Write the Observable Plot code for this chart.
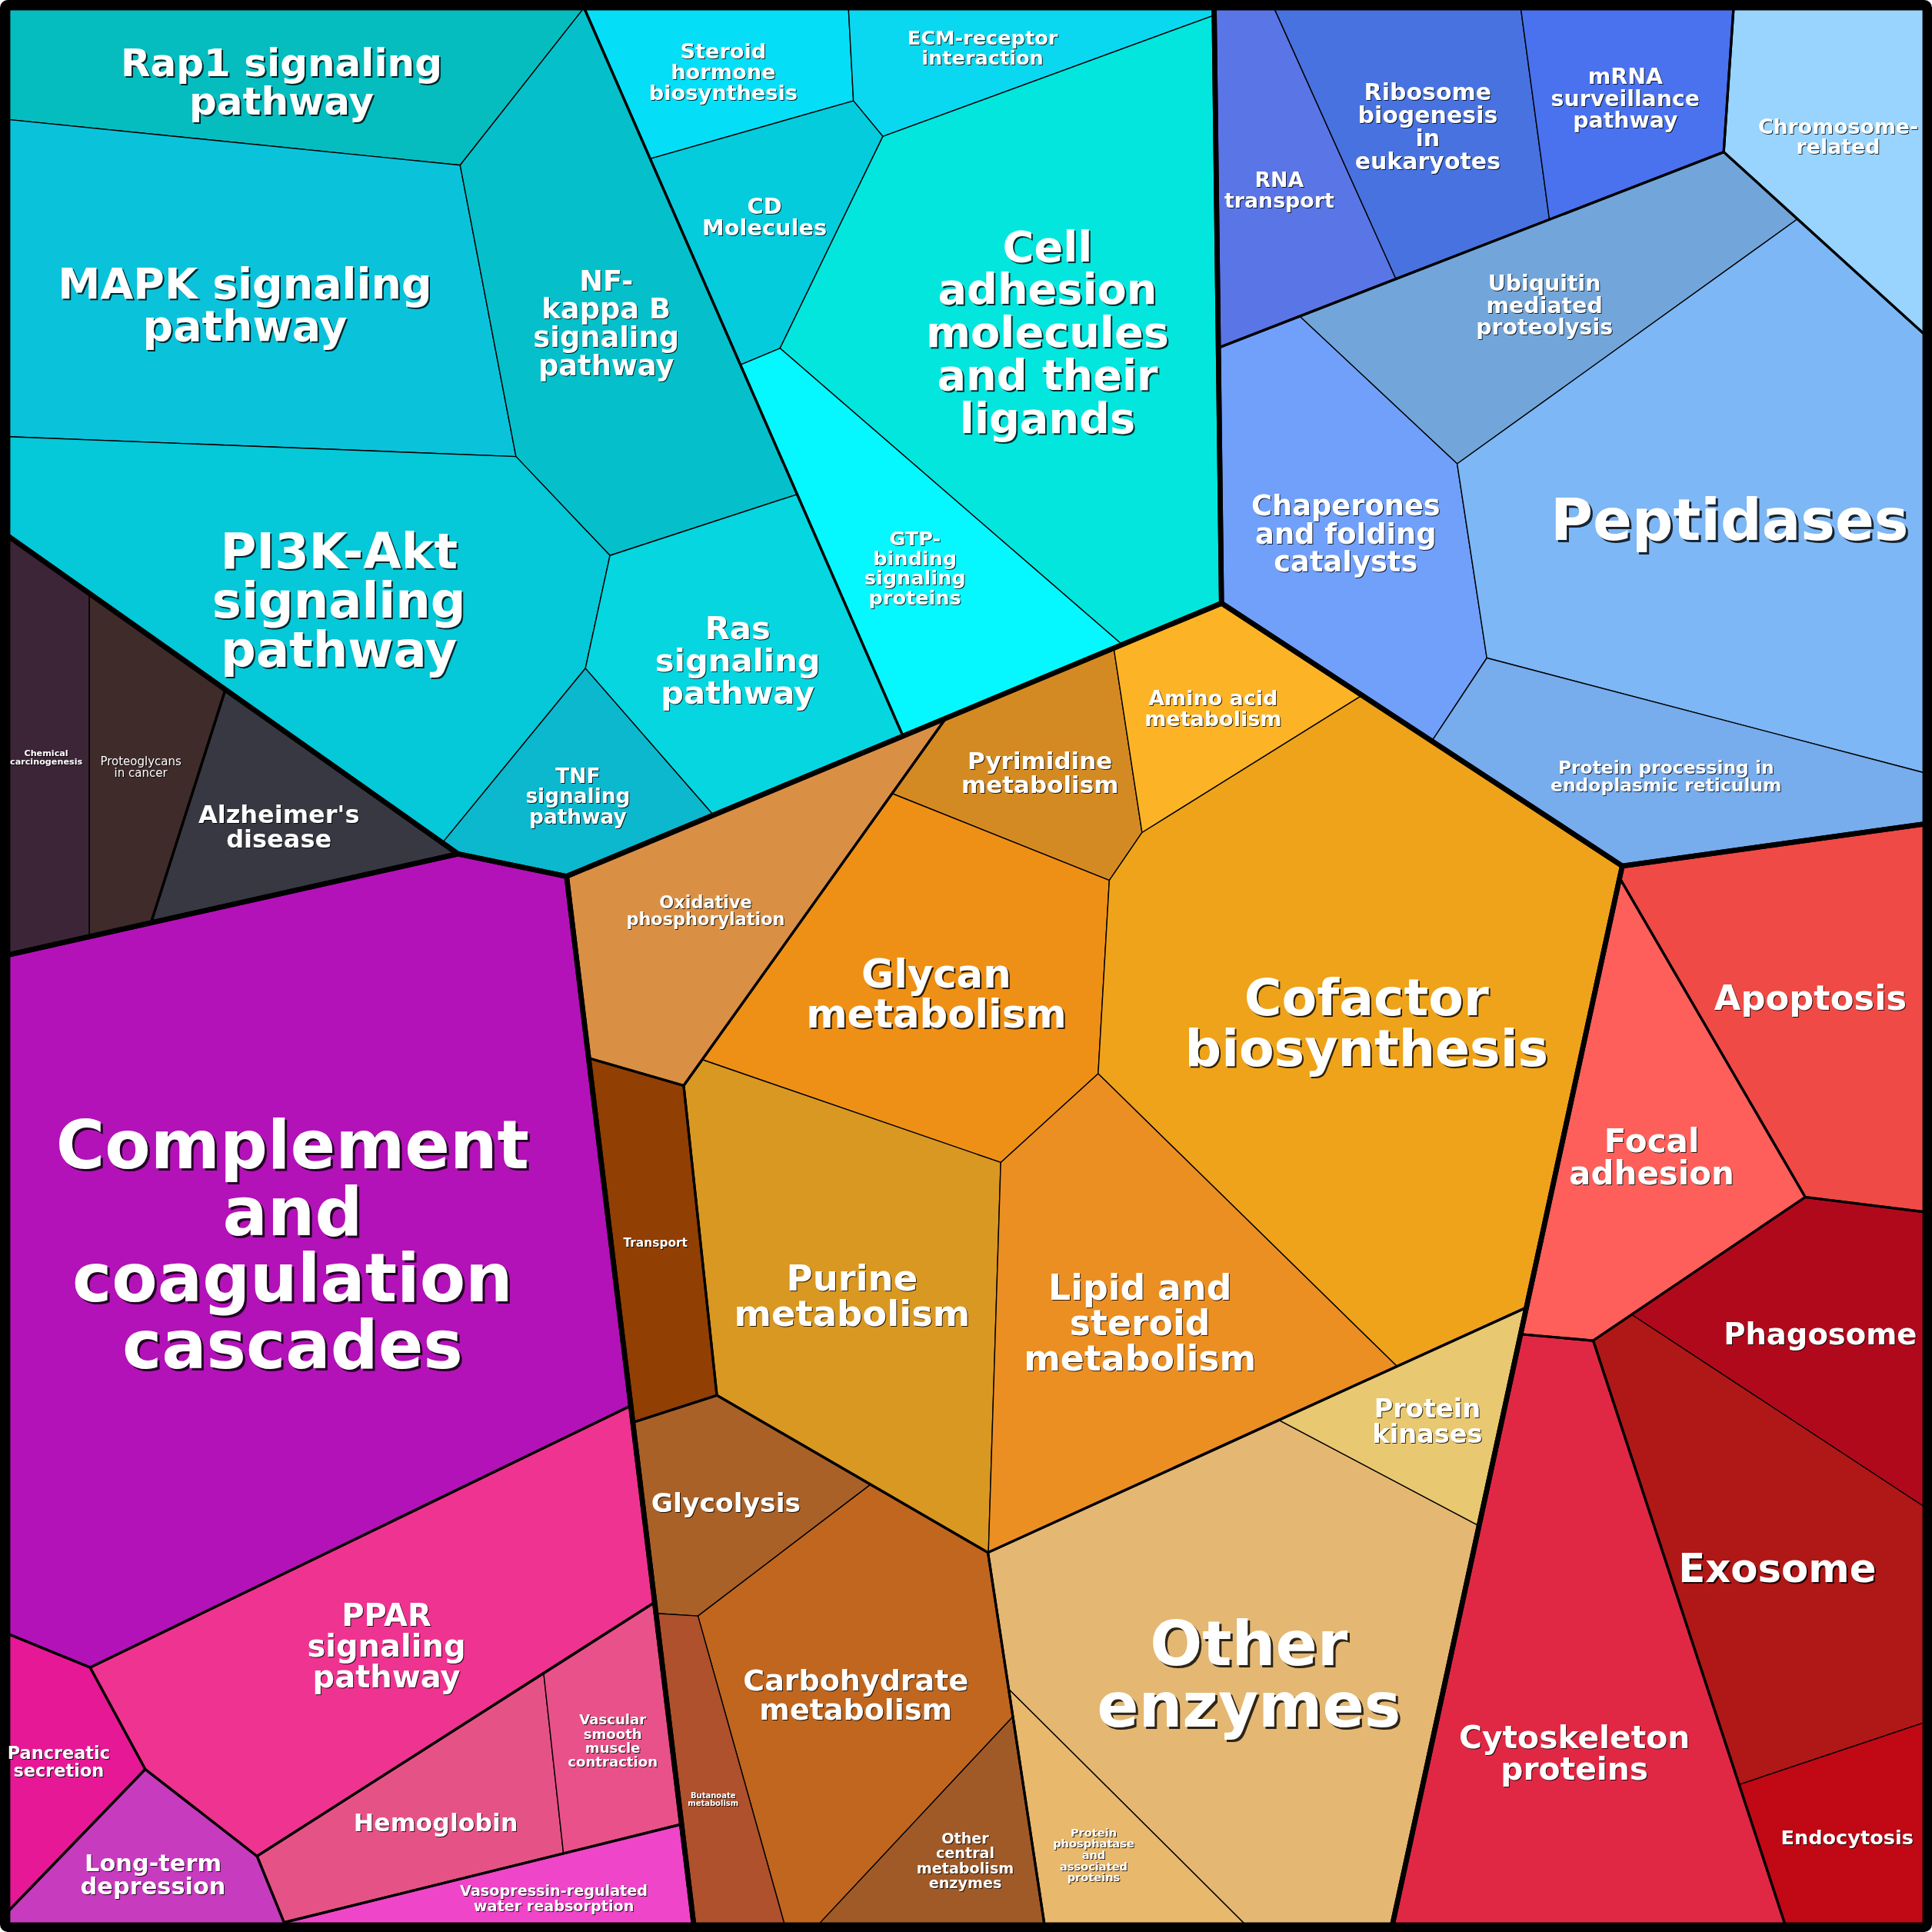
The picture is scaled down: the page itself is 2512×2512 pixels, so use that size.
<!DOCTYPE html>
<html>
<head>
<meta charset="utf-8">
<script src="https://cdn.jsdelivr.net/npm/d3@7"></script>
<script src="https://cdn.jsdelivr.net/npm/@observablehq/plot@0.6"></script>
<style>
  html, body { margin: 0; padding: 0; background: #ffffff; }
  #chart svg { display: block; }
</style>
</head>
<body>
<div id="chart"></div>
<script>
// ================= DATA =================
const groupNames = [
  "Environmental Information Processing", "Human Diseases", "Organismal Systems",
  "Metabolism", "Genetic Information Processing", "Cellular Processes"
];

const subgroupNames = [
  "Signal transduction", "Signaling molecules and interaction",
  "Cancers", "Neurodegenerative diseases",
  "Immune system", "Endocrine system", "Digestive system", "Nervous system", "Circulatory system", "Excretory system",
  "Energy metabolism", "Membrane transport", "Biosynthesis", "Central carbon metabolism", "Enzyme families",
  "Transcription and translation", "Replication and repair", "Folding, sorting and degradation",
  "Cell growth and death", "Cellular community", "Cell motility", "Transport and catabolism"
];
const subgroupGroup = [
  "Environmental Information Processing", "Environmental Information Processing",
  "Human Diseases", "Human Diseases",
  "Organismal Systems", "Organismal Systems", "Organismal Systems", "Organismal Systems", "Organismal Systems", "Organismal Systems",
  "Metabolism", "Metabolism", "Metabolism", "Metabolism", "Metabolism",
  "Genetic Information Processing", "Genetic Information Processing", "Genetic Information Processing",
  "Cellular Processes", "Cellular Processes", "Cellular Processes", "Cellular Processes"
];

const names = [
  "Rap1 signaling pathway", "MAPK signaling pathway", "NF-kappa B signaling pathway", "PI3K-Akt signaling pathway",
  "Ras signaling pathway", "TNF signaling pathway",
  "Steroid hormone biosynthesis", "ECM-receptor interaction", "CD Molecules",
  "Cell adhesion molecules and their ligands", "GTP-binding signaling proteins",
  "Chemical carcinogenesis", "Proteoglycans in cancer", "Alzheimer's disease",
  "Complement and coagulation cascades", "PPAR signaling pathway", "Pancreatic secretion", "Long-term depression",
  "Hemoglobin", "Vascular smooth muscle contraction", "Vasopressin-regulated water reabsorption",
  "Oxidative phosphorylation", "Transport",
  "Pyrimidine metabolism", "Amino acid metabolism", "Glycan metabolism", "Cofactor biosynthesis",
  "Purine metabolism", "Lipid and steroid metabolism",
  "Glycolysis", "Carbohydrate metabolism", "Butanoate metabolism", "Other central metabolism enzymes",
  "Other enzymes", "Protein kinases", "Protein phosphatase and associated proteins",
  "RNA transport", "Ribosome biogenesis in eukaryotes", "mRNA surveillance pathway",
  "Chromosome-related",
  "Ubiquitin mediated proteolysis", "Chaperones and folding catalysts", "Peptidases",
  "Protein processing in endoplasmic reticulum",
  "Apoptosis", "Focal adhesion", "Cytoskeleton proteins",
  "Phagosome", "Exosome", "Endocytosis"
];
const leafSubgroup = [
  "Signal transduction", "Signal transduction", "Signal transduction", "Signal transduction",
  "Signal transduction", "Signal transduction",
  "Signaling molecules and interaction", "Signaling molecules and interaction", "Signaling molecules and interaction",
  "Signaling molecules and interaction", "Signaling molecules and interaction",
  "Cancers", "Cancers", "Neurodegenerative diseases",
  "Immune system", "Endocrine system", "Digestive system", "Nervous system",
  "Circulatory system", "Circulatory system", "Excretory system",
  "Energy metabolism", "Membrane transport",
  "Biosynthesis", "Biosynthesis", "Biosynthesis", "Biosynthesis", "Biosynthesis", "Biosynthesis",
  "Central carbon metabolism", "Central carbon metabolism", "Central carbon metabolism", "Central carbon metabolism",
  "Enzyme families", "Enzyme families", "Enzyme families",
  "Transcription and translation", "Transcription and translation", "Transcription and translation",
  "Replication and repair",
  "Folding, sorting and degradation", "Folding, sorting and degradation", "Folding, sorting and degradation",
  "Folding, sorting and degradation",
  "Cell growth and death", "Cellular community", "Cell motility",
  "Transport and catabolism", "Transport and catabolism", "Transport and catabolism"
];
// relative abundance (cell size) of each category
const values = [
  46.1, 94.8, 64.6, 96.7, 41.5, 18.5,
  19.3, 17.0, 21.4, 117.2, 37.1,
  20.3, 19.6, 21.7,
  256.1, 77.2, 14.6, 16.4, 24.7, 15.8, 13.8,
  37.4, 19.7,
  21.9, 19.8, 61.2, 151.2, 69.6, 69.2,
  20.1, 56.1, 13.4, 15.4,
  108.7, 15.9, 15.5,
  25.1, 33.0, 22.7,
  30.5,
  42.2, 49.8, 116.6, 37.1,
  51.4, 41.8, 89.2,
  33.7, 58.1, 18.7
];

// ================= LAYOUT SEEDS (power-diagram generator points) =================
const groupSeedX = [500, 216, 320.5, 835.6, 1370.3, 1503.6];
const groupSeedY = [306, 708, 1173.4, 1110.9, 295.2, 1255.9];
const subSeedX = [335, 741.5, 76, 228.1, 237, 380.1, 40.8, 152.9, 481.2, 497.3,
  630.7, 558.3, 926, 681.8, 1089.5, 1182.8, 1567.7, 1305, 1490.4, 1337, 1317.4, 1457.1];
const subSeedY = [339, 161, 616, 664.5, 1001, 1296.6, 1480.5, 1588.7, 1454.9, 1520,
  668.3, 918.4, 879, 1300.1, 1238.2, 104.5, 130.8, 420, 844.8, 934, 1157.4, 1111.5];
const leafSeedX = [261.9, 239.6, 483.3, 232.1, 586.3, 460.2,
  587, 796.1, 624.3, 896.4, 750.4,
  40, 114, 228,
  237, 315, 48, 124, 350, 501.2, 445,
  581, 532,
  827.9, 973.4, 759.8, 1106, 695.8, 936.1,
  582.4, 696, 570.9, 806.6,
  1014, 1128.2, 879.8,
  1039.4, 1159, 1317.9,
  1491,
  1287, 1096.3, 1400, 1344.7,
  1469, 1337, 1278,
  1535.3, 1438, 1510.9];
const leafSeedY = [52.7, 273.7, 227.0, 465.5, 542.5, 652.5,
  57, 45.8, 188, 320.1, 488.7,
  616, 616, 665,
  1001, 1328, 1426, 1516, 1472, 1455.4, 1533,
  738, 1003,
  633.7, 611.4, 804, 824, 989.9, 997.5,
  1220.8, 1370, 1405.1, 1473.4,
  1349, 1132.8, 1483.9,
  153.8, 100, 78.5,
  109,
  257.9, 461.4, 415, 625.7,
  808, 934, 1378,
  1115.9, 1264, 1481.3];

// ================= STYLES =================
const leafColors = [
  "#05BDBF", "#0AC3DB", "#05C0CA", "#05C8D8", "#06D6E0", "#0BB8CE",
  "#05DEF7", "#0AD8F0", "#05CCDC", "#02E6DE", "#05F7FF",
  "#3C2536", "#3E2B2A", "#373842",
  "#B312B8", "#EF3390", "#E61896", "#C73BBE", "#E55386", "#E9518A", "#EF45C8",
  "#D99045", "#913F03",
  "#D48A22", "#FCB426", "#EE9015", "#EEA31A", "#D99822", "#EB8F22",
  "#A96128", "#C0661E", "#AE512C", "#A05A28",
  "#E4B772", "#E8C870", "#E8B86C",
  "#5A75E6", "#4872E0", "#4A72EF",
  "#98D4FD",
  "#72A6DA", "#70A0FA", "#7DB7F5", "#77ACED",
  "#EF4A46", "#FE5F5A", "#E02844",
  "#B1091C", "#B01717", "#C10815"
];
const labelLines = [
  "Rap1 signaling\npathway", "MAPK signaling\npathway", "NF-\nkappa B\nsignaling\npathway", "PI3K-Akt\nsignaling\npathway",
  "Ras\nsignaling\npathway", "TNF\nsignaling\npathway",
  "Steroid\nhormone\nbiosynthesis", "ECM-receptor\ninteraction", "CD\nMolecules",
  "Cell\nadhesion\nmolecules\nand their\nligands", "GTP-\nbinding\nsignaling\nproteins",
  "Chemical\ncarcinogenesis", "Proteoglycans\nin cancer", "Alzheimer's\ndisease",
  "Complement\nand\ncoagulation\ncascades", "PPAR\nsignaling\npathway", "Pancreatic\nsecretion", "Long-term\ndepression",
  "Hemoglobin", "Vascular\nsmooth\nmuscle\ncontraction", "Vasopressin-regulated\nwater reabsorption",
  "Oxidative\nphosphorylation", "Transport",
  "Pyrimidine\nmetabolism", "Amino acid\nmetabolism", "Glycan\nmetabolism", "Cofactor\nbiosynthesis",
  "Purine\nmetabolism", "Lipid and\nsteroid\nmetabolism",
  "Glycolysis", "Carbohydrate\nmetabolism", "Butanoate\nmetabolism", "Other\ncentral\nmetabolism\nenzymes",
  "Other\nenzymes", "Protein\nkinases", "Protein\nphosphatase\nand\nassociated\nproteins",
  "RNA\ntransport", "Ribosome\nbiogenesis\nin\neukaryotes", "mRNA\nsurveillance\npathway",
  "Chromosome-\nrelated",
  "Ubiquitin\nmediated\nproteolysis", "Chaperones\nand folding\ncatalysts", "Peptidases",
  "Protein processing in\nendoplasmic reticulum",
  "Apoptosis", "Focal\nadhesion", "Cytoskeleton\nproteins",
  "Phagosome", "Exosome", "Endocytosis"
];
const labelSizes = [
  50, 55.4, 36.8, 64, 41.7, 26.4,
  27.2, 25.6, 28.8, 55.7, 25.6,
  11.2, 15, 32,
  86.5, 40, 22.4, 30.4, 31.6, 18.1, 19.2,
  22.4, 15.4,
  31, 27, 51.3, 66.5, 46.5, 45.8,
  34.6, 38, 10, 19.2,
  80, 33.6, 14.6,
  26.8, 30, 28.4,
  26.8,
  28.4, 36.8, 75, 23.4,
  44.8, 42, 40.8,
  38.5, 51.3, 25.6
];
const labelWeights = names.map(n => n === "Proteoglycans in cancer" ? "normal" : "bold");

// ================= GEOMETRY (power-diagram treemap) =================
const W = 2512;
const K = 2512 / 1568;
const FRAME = [[6, 6], [1562, 6], [1562, 1562], [6, 1562]];

function polyArea(p) {
  let s = 0;
  for (let i = 0; i < p.length; i++) {
    const a = p[i], b = p[(i + 1) % p.length];
    s += a[0] * b[1] - b[0] * a[1];
  }
  return Math.abs(s) / 2;
}
function polyCentroid(p) {
  let s = 0, cx = 0, cy = 0;
  for (let i = 0; i < p.length; i++) {
    const a = p[i], b = p[(i + 1) % p.length];
    const c = a[0] * b[1] - b[0] * a[1];
    s += c; cx += (a[0] + b[0]) * c; cy += (a[1] + b[1]) * c;
  }
  if (Math.abs(s) < 1e-9) return [d3.mean(p, d => d[0]), d3.mean(p, d => d[1])];
  return [cx / (3 * s), cy / (3 * s)];
}
function clip(poly, a, b, c) {
  const out = [];
  const n = poly.length;
  for (let k = 0; k < n; k++) {
    const P = poly[k], Q = poly[(k + 1) % n];
    const fp = a * P[0] + b * P[1] - c, fq = a * Q[0] + b * Q[1] - c;
    if (fp <= 0) out.push(P);
    if ((fp <= 0) !== (fq <= 0)) {
      const t = fp / (fp - fq);
      out.push([P[0] + t * (Q[0] - P[0]), P[1] + t * (Q[1] - P[1])]);
    }
  }
  return out;
}
function bisector(s, w, i, j) {
  const a = 2 * (s[j][0] - s[i][0]), b = 2 * (s[j][1] - s[i][1]);
  const c = s[j][0] ** 2 + s[j][1] ** 2 - s[i][0] ** 2 - s[i][1] ** 2 - w[j] + w[i];
  return [a, b, c];
}
function powerCells(parent, s, w) {
  return s.map((_, i) => {
    let poly = parent;
    for (let j = 0; j < s.length && poly.length; j++) {
      if (j === i) continue;
      const [a, b, c] = bisector(s, w, i, j);
      poly = clip(poly, a, b, c);
    }
    return poly;
  });
}
function areaDerivative(cell, s, w, i) {
  let D = 0;
  for (let j = 0; j < s.length; j++) {
    if (j === i) continue;
    const [a, b, c] = bisector(s, w, i, j);
    const nrm = Math.hypot(a, b);
    let L = 0;
    for (let k = 0; k < cell.length; k++) {
      const P = cell[k], Q = cell[(k + 1) % cell.length];
      if (Math.abs(a * P[0] + b * P[1] - c) / nrm < 1e-5 && Math.abs(a * Q[0] + b * Q[1] - c) / nrm < 1e-5) {
        L += Math.hypot(Q[0] - P[0], Q[1] - P[1]);
      }
    }
    D += L / nrm;
  }
  return D;
}
function solve(parent, seeds, vals) {
  const n = seeds.length;
  if (n === 1) return [parent];
  const total = d3.sum(vals), A = polyArea(parent);
  const T = vals.map(v => v / total * A);
  const w = new Array(n).fill(0);
  let cells = powerCells(parent, seeds, w);
  for (let it = 0; it < 4000; it++) {
    let maxErr = 0;
    const upd = new Array(n).fill(0);
    for (let i = 0; i < n; i++) {
      const a = cells[i].length > 2 ? polyArea(cells[i]) : 0;
      maxErr = Math.max(maxErr, Math.abs(T[i] - a) / T[i]);
      const D = a > 0 ? areaDerivative(cells[i], seeds, w, i) : 0;
      if (a <= 1e-9 || D <= 1e-9) {
        let need = -Infinity;
        for (let j = 0; j < n; j++) if (j !== i) {
          need = Math.max(need, w[j] - ((seeds[i][0] - seeds[j][0]) ** 2 + (seeds[i][1] - seeds[j][1]) ** 2));
        }
        upd[i] = Math.max(T[i] * 0.2, need + 1 - w[i]);
      } else {
        upd[i] = 0.5 * (T[i] - a) / D;
      }
    }
    if (maxErr < 2e-5) break;
    for (let i = 0; i < n; i++) w[i] += upd[i];
    cells = powerCells(parent, seeds, w);
  }
  return cells;
}

// --- top level
const leafIdx = names.map((_, i) => i);
const subIdx = subgroupNames.map((_, i) => i);
const groupVals = groupNames.map(g => d3.sum(leafIdx.filter(i => subgroupGroup[subgroupNames.indexOf(leafSubgroup[i])] === g), i => values[i]));
const groupCells = solve(FRAME, groupNames.map((_, i) => [groupSeedX[i], groupSeedY[i]]), groupVals);

// --- second level
const subCells = new Array(subgroupNames.length);
groupNames.forEach((g, gi) => {
  const subs = subIdx.filter(i => subgroupGroup[i] === g);
  const vals = subs.map(si => d3.sum(leafIdx.filter(i => leafSubgroup[i] === subgroupNames[si]), i => values[i]));
  const cells = solve(groupCells[gi], subs.map(si => [subSeedX[si], subSeedY[si]]), vals);
  subs.forEach((si, k) => subCells[si] = cells[k]);
});

// --- leaves
const leafCells = new Array(names.length);
subgroupNames.forEach((s, si) => {
  const leaves = leafIdx.filter(i => leafSubgroup[i] === s);
  const cells = solve(subCells[si], leaves.map(li => [leafSeedX[li], leafSeedY[li]]), leaves.map(li => values[li]));
  leaves.forEach((li, k) => leafCells[li] = cells[k]);
});

// ================= LABEL PLACEMENT =================
const ctx = document.createElement("canvas").getContext("2d");
function placeLabel(poly, hw, hh) {
  const cen = polyCentroid(poly);
  const cons = [];
  for (let k = 0; k < poly.length; k++) {
    const P = poly[k], Q = poly[(k + 1) % poly.length];
    let nx = Q[1] - P[1], ny = -(Q[0] - P[0]);
    const len = Math.hypot(nx, ny);
    if (len < 1e-6) continue;
    nx /= len; ny /= len;
    let c = nx * P[0] + ny * P[1];
    if (nx * cen[0] + ny * cen[1] > c) { nx = -nx; ny = -ny; c = -c; }
    cons.push([nx, ny, c, Math.abs(nx) * hw + Math.abs(ny) * hh]);
  }
  const x0 = d3.min(poly, d => d[0]), x1 = d3.max(poly, d => d[0]);
  const y0 = d3.min(poly, d => d[1]), y1 = d3.max(poly, d => d[1]);
  const step = Math.max(x1 - x0, y1 - y0) / 120;
  const pts = [];
  let smax = -Infinity;
  for (let x = x0; x <= x1; x += step) {
    for (let y = y0; y <= y1; y += step) {
      let s = Infinity;
      for (const [nx, ny, c, k] of cons) s = Math.min(s, (c - nx * x - ny * y) / k);
      if (s > 0) { pts.push([x, y, s]); if (s > smax) smax = s; }
    }
  }
  if (!pts.length) return cen;
  let best = null, bd = Infinity;
  for (const [x, y, s] of pts) {
    if (s < 0.8 * smax) continue;
    const d = (x - cen[0]) ** 2 + (y - cen[1]) ** 2;
    if (d < bd) { bd = d; best = [x, y]; }
  }
  return best;
}
const labels = names.map((n, i) => {
  const lines = labelLines[i].split("\n");
  const size = labelSizes[i];
  ctx.font = `${labelWeights[i]} ${size}px "DejaVu Sans"`;
  const wpx = d3.max(lines, l => ctx.measureText(l).width);
  const hw = wpx / 2 / K, hh = lines.length * size / 2 / K;
  const [x, y] = placeLabel(leafCells[i], hw, hh);
  return {name: n, x, y: y + 0.2 * size / K, text: labelLines[i], size, weight: labelWeights[i]};
});

// ================= ROWS FOR PLOT =================
const leafRows = leafCells.flatMap((c, i) => c.map(([x, y]) => ({id: names[i], x, y, color: leafColors[i]})));
const subRows = subCells.flatMap((c, i) => c.map(([x, y]) => ({id: subgroupNames[i], x, y})));
const groupRows = groupCells.flatMap((c, i) => c.map(([x, y]) => ({id: groupNames[i], x, y})));

const textBase = {x: "x", y: "y", text: "text", fontSize: "size", fontFamily: "DejaVu Sans", lineAnchor: "middle", fill: "#ffffff"};

const chart = Plot.plot({
  width: W,
  height: W,
  margin: 0,
  x: {domain: [0, 1568], range: [0, W], axis: null},
  y: {domain: [0, 1568], range: [0, W], axis: null},
  color: {type: "identity"},
  style: {background: "#000000", borderRadius: "10px"},
  marks: [
    Plot.line(leafRows, {x: "x", y: "y", z: "id", fill: "color", stroke: "#000", strokeWidth: 1.4, curve: "linear-closed", strokeLinejoin: "round"}),
    Plot.line(subRows, {x: "x", y: "y", z: "id", fill: "none", stroke: "#000", strokeWidth: 3.2, curve: "linear-closed", strokeLinejoin: "round"}),
    Plot.line(groupRows, {x: "x", y: "y", z: "id", fill: "none", stroke: "#000", strokeWidth: 6.6, curve: "linear-closed", strokeLinejoin: "round"}),
    Plot.text(labels.filter(d => d.weight === "bold"), {...textBase, fontWeight: "bold"}),
    Plot.text(labels.filter(d => d.weight !== "bold"), {...textBase, fontWeight: "normal"})
  ]
});

// soft dark drop shadow under every label, scaled with its font size
d3.select(chart).selectAll("text").each(function () {
  const fs = parseFloat(this.getAttribute("font-size")) || 20;
  const o = Math.max(1, fs * 0.04).toFixed(2);
  this.style.filter = `drop-shadow(${o}px ${o}px 0px rgba(0,0,0,0.8))`;
});

document.getElementById("chart").appendChild(chart);
</script>
</body>
</html>
